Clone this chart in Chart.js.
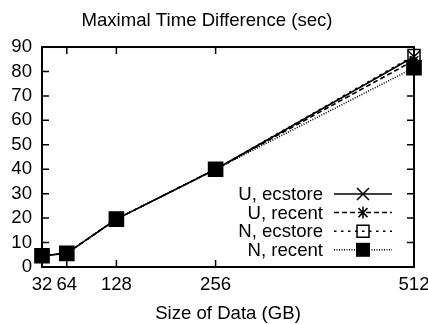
<!DOCTYPE html>
<html>
<head>
<meta charset="utf-8">
<script src="https://cdn.jsdelivr.net/npm/chart.js@4"></script>
<style>
  html, body { margin: 0; padding: 0; background: #fff; }
  #wrap { width: 428px; height: 324px; }
</style>
</head>
<body>
<div id="wrap"><canvas id="timeDiff"></canvas></div>
<script>
// data sizes (GB) and max time differences (sec)
const sizes = [32, 64, 128, 256, 512];
const uEcstore = [4.6, 5.6, 19.6, 40, 86];
const uRecent = [4.6, 5.6, 19.6, 40, 84.5];
const nEcstore = [4.6, 5.6, 19.6, 40, 86.5];
const nRecent = [4.6, 5.6, 19.6, 40, 81.5];
const yTicks = [0, 10, 20, 30, 40, 50, 60, 70, 80, 90];

const FONT = '"Liberation Sans", Arial, Helvetica, sans-serif';
const FONT_SIZE = 18.6;

const toPoints = vals => vals.map((v, i) => ({ x: sizes[i], y: v }));

// marker drawing for the key
function drawMarker(ctx, style, x, y) {
    ctx.save();
    ctx.setLineDash([]);
    ctx.strokeStyle = '#000';
    ctx.fillStyle = '#000';
    ctx.lineWidth = 1.5;
    ctx.beginPath();
    if (style === 'crossRot') {
        const d = 6;
        ctx.moveTo(x - d, y - d); ctx.lineTo(x + d, y + d);
        ctx.moveTo(x - d, y + d); ctx.lineTo(x + d, y - d);
        ctx.stroke();
    } else if (style === 'star') {
        const d = 6, e = 4.5;
        ctx.moveTo(x, y - d); ctx.lineTo(x, y + d);
        ctx.moveTo(x - e, y - e); ctx.lineTo(x + e, y + e);
        ctx.moveTo(x - e, y + e); ctx.lineTo(x + e, y - e);
        ctx.stroke();
    } else if (style === 'openRect') {
        ctx.rect(x - 6, y - 6, 12, 12);
        ctx.stroke();
    } else {
        ctx.rect(x - 7, y - 7, 14, 14);
        ctx.fill();
    }
    ctx.restore();
}

const series = [
    { label: 'U, ecstore', data: uEcstore, dash: [], marker: 'crossRot', chartStyle: 'crossRot', radius: 8.5 },
    { label: 'U, recent', data: uRecent, dash: [5, 3], marker: 'star', chartStyle: 'star', radius: 6 },
    { label: 'N, ecstore', data: nEcstore, dash: [2.5, 4.5], marker: 'openRect', chartStyle: 'rect', radius: 8.5 },
    { label: 'N, recent', data: nRecent, dash: [1, 1.5], marker: 'rect', chartStyle: 'rect', radius: 10 },
];

// gnuplot style frame with inward ticks on all four sides
const framePlugin = {
    id: 'frame',
    beforeDatasetsDraw(chart) {
        const { ctx, chartArea: a, scales } = chart;
        const len = 7;
        ctx.save();
        ctx.strokeStyle = '#000';
        ctx.lineWidth = 1.5;
        ctx.beginPath();
        sizes.forEach(v => {
            const px = scales.x.getPixelForValue(v);
            ctx.moveTo(px, a.bottom); ctx.lineTo(px, a.bottom - len);
            ctx.moveTo(px, a.top); ctx.lineTo(px, a.top + len);
        });
        yTicks.forEach(v => {
            const py = scales.y.getPixelForValue(v);
            ctx.moveTo(a.left, py); ctx.lineTo(a.left + len, py);
            ctx.moveTo(a.right, py); ctx.lineTo(a.right - len, py);
        });
        ctx.stroke();
        ctx.lineWidth = 2;
        ctx.strokeRect(a.left, a.top, a.right - a.left, a.bottom - a.top);
        ctx.restore();
    }
};

// key in the lower right: label, line sample, marker
const keyPlugin = {
    id: 'key',
    afterDatasetsDraw(chart) {
        const { ctx } = chart;
        const textRight = 323, lineLeft = 334, lineRight = 392, markX = 363;
        const top = 194, step = 18.6;
        ctx.save();
        ctx.font = FONT_SIZE + 'px ' + FONT;
        ctx.fillStyle = '#000';
        ctx.textAlign = 'right';
        ctx.textBaseline = 'middle';
        series.forEach((s, i) => {
            const y = top + i * step;
            ctx.fillText(s.label, textRight, y + 1);
            ctx.strokeStyle = '#000';
            ctx.lineWidth = 1.5;
            ctx.setLineDash(s.dash);
            ctx.beginPath();
            ctx.moveTo(lineLeft, y);
            ctx.lineTo(lineRight, y);
            ctx.stroke();
            drawMarker(ctx, s.marker, markX, y);
        });
        ctx.restore();
    }
};

new Chart(document.getElementById('timeDiff'), {
    type: 'line',
    data: {
        datasets: series.map(s => ({
            label: s.label,
            data: toPoints(s.data),
            borderColor: '#000',
            borderWidth: 1.6,
            borderDash: s.dash,
            pointStyle: s.chartStyle,
            pointRadius: s.radius,
            pointBorderColor: '#000',
            pointBorderWidth: 1.5,
            pointBackgroundColor: s.marker === 'rect' ? '#000' : 'rgba(0,0,0,0)',
            tension: 0,
            fill: false,
            clip: false,
        })),
    },
    options: {
        responsive: true,
        maintainAspectRatio: false,
        animation: false,
        layout: { padding: { top: 0, right: 14, bottom: 0, left: 0 } },
        scales: {
            x: {
                type: 'linear',
                min: 32,
                max: 512,
                afterBuildTicks: scale => { scale.ticks = sizes.map(v => ({ value: v })); },
                afterFit: scale => { scale.height = 57; scale.paddingLeft = 0; scale.paddingRight = 0; },
                grid: { display: false, drawTicks: false },
                border: { display: false },
                ticks: {
                    color: '#000',
                    padding: 7,
                    maxRotation: 0,
                    autoSkip: false,
                    font: { family: FONT, size: FONT_SIZE },
                },
                title: {
                    display: true,
                    text: 'Size of Data (GB)',
                    color: '#000',
                    padding: { top: 0, bottom: -1 },
                    font: { family: FONT, size: FONT_SIZE },
                },
            },
            y: {
                min: 0,
                max: 90,
                afterBuildTicks: scale => { scale.ticks = yTicks.map(v => ({ value: v })); },
                afterFit: scale => { scale.width = 42; scale.paddingTop = 0; scale.paddingBottom = 0; },
                grid: { display: false, drawTicks: false },
                border: { display: false },
                ticks: {
                    color: '#000',
                    padding: 10,
                    autoSkip: false,
                    font: { family: FONT, size: FONT_SIZE },
                },
            },
        },
        plugins: {
            legend: { display: false },
            tooltip: { enabled: false },
            title: {
                display: true,
                text: 'Maximal Time Difference (sec)',
                color: '#000',
                padding: { top: 9.5, bottom: 15.2 },
                font: { family: FONT, size: FONT_SIZE, weight: 'normal' },
            },
        },
    },
    plugins: [framePlugin, keyPlugin],
});
</script>
</body>
</html>
